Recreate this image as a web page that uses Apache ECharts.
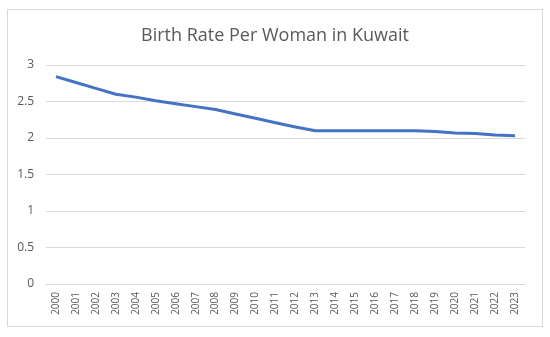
<!DOCTYPE html>
<html>
<head>
<meta charset="utf-8">
<script src="https://cdn.jsdelivr.net/npm/echarts@6/dist/echarts.min.js"></script>
<style>
html,body{margin:0;padding:0;background:#fff;}
#chart{width:550px;height:337px;}
</style>
</head>
<body>
<div id="chart"></div>
<script>
var years = ['2000','2001','2002','2003','2004','2005','2006','2007','2008','2009','2010','2011','2012','2013','2014','2015','2016','2017','2018','2019','2020','2021','2022','2023'];
var birthRate = [2.84,2.76,2.68,2.60,2.56,2.51,2.47,2.43,2.39,2.33,2.27,2.21,2.15,2.10,2.10,2.10,2.10,2.10,2.10,2.09,2.07,2.06,2.04,2.03];
var yTicks = [0,0.5,1,1.5,2,2.5,3];

var chart = echarts.init(document.getElementById('chart'));
chart.setOption({
  animation: false,
  backgroundColor: '#ffffff',
  graphic: [{
    type: 'rect',
    shape: {x: 7.5, y: 9.5, width: 535, height: 317},
    style: {fill: 'none', stroke: '#d9d9d9', lineWidth: 1},
    silent: true
  }],
  title: {
    text: 'Birth Rate Per Woman in Kuwait',
    left: 'center',
    top: 22,
    textStyle: {fontFamily: 'Open Sans', fontSize: 18, fontWeight: 'normal', color: '#595959'}
  },
  grid: {left: 46, right: 25, top: 65, bottom: 53},
  xAxis: {
    type: 'category',
    data: years,
    boundaryGap: true,
    axisLine: {lineStyle: {color: '#d9d9d9'}},
    axisTick: {show: false},
    axisLabel: {rotate: 90, interval: 0, color: '#595959', fontFamily: 'Open Sans', fontSize: 10, margin: 8}
  },
  yAxis: {
    type: 'value',
    min: yTicks[0],
    max: yTicks[yTicks.length - 1],
    interval: 0.5,
    axisLine: {show: false},
    axisTick: {show: false},
    splitLine: {lineStyle: {color: '#d9d9d9'}},
    axisLabel: {color: '#595959', fontFamily: 'Open Sans', fontSize: 12, margin: 12}
  },
  series: [{
    type: 'line',
    data: birthRate,
    showSymbol: false,
    symbol: 'none',
    lineStyle: {color: '#4472C4', width: 3}
  }]
});
</script>
</body>
</html>
